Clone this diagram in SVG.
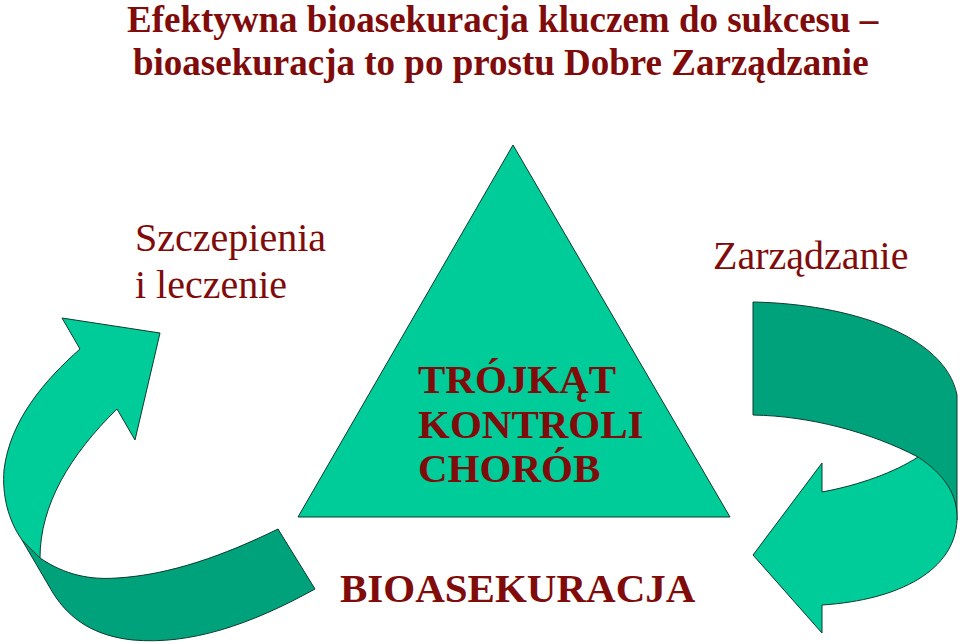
<svg xmlns="http://www.w3.org/2000/svg" width="960" height="644" viewBox="0 0 960 644">
<style>
.t{font-family:"Liberation Serif","Times New Roman",serif;fill:#7f0b0b}
.b{font-weight:bold}
.light{fill:#00cc99;stroke:#0d3b2e;stroke-width:1}
.dark{fill:#00a27b;stroke:#0d3b2e;stroke-width:1}
</style>
<rect width="960" height="644" fill="#ffffff"/>
<g id="title">
<text class="t b" x="127" y="32" font-size="37">Efektywna bioasekuracja kluczem do sukcesu –</text>
<text class="t b" x="133" y="75" font-size="37">bioasekuracja to po prostu Dobre Zarządzanie</text>
</g>
<g id="triangle">
<polygon class="light" points="513,145 730,517 298,517"/>
<text class="t b" x="418" y="393" font-size="41">TRÓJKĄT</text>
<text class="t b" x="418" y="438" font-size="41">KONTROLI</text>
<text class="t b" x="418" y="482" font-size="41">CHORÓB</text>
</g>
<g id="label-left">
<text class="t" x="135" y="251" font-size="40">Szczepienia</text>
<text class="t" x="135" y="298" font-size="40">i leczenie</text>
</g>
<g id="label-right">
<text class="t" x="713" y="269" font-size="40">Zarządzanie</text>
</g>
<g id="label-bottom">
<text class="t b" x="340" y="602" font-size="41">BIOASEKURACJA</text>
</g>
<g id="connectors">
<g id="arrow-left">
<path class="dark" d="M22,540 L40,558 C65,575 90,580 117,578 C170,575 225,555 278,529 L315,589 C250,625 190,645 133,640 C95,636 70,620 53,593 Z"/>
<path class="light" d="M160,333 L135,440 L117,409 C70,455 40,505 40,558 L22,540 C8,520 2,495 4,470 C10,420 45,380 80,349 L62,318 Z"/>
</g>
<g id="arrow-right">
<path class="dark" d="M753,302 C850,304 945,335 957,395 L957,520 L918,457 C870,432 810,416 753,415 Z"/>
<path class="light" d="M918,457 C945,475 958,495 957,520 C955,570 900,600 822,605 L822,633 L753,555 L822,463 L822,492 C860,485 895,472 918,457 Z"/>
</g>
</g>
</svg>
